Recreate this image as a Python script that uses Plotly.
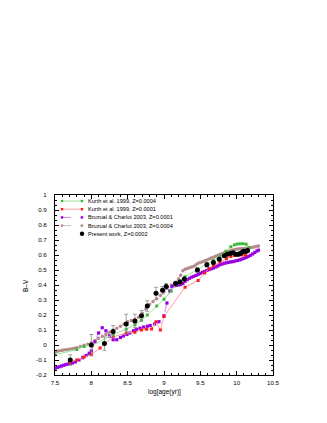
import plotly.graph_objects as go

# ---------------------------------------------------------
# data
# ---------------------------------------------------------
# Present work, Z=0.0002 (black points with error bars)
obs_age = [7.71, 8.00, 8.18, 8.30, 8.48, 8.60, 8.69, 8.77, 8.89, 8.98, 9.03,
           9.16, 9.22, 9.28, 9.46, 9.59, 9.68, 9.76, 9.83, 9.87, 9.91, 9.95,
           9.99, 10.02, 10.05, 10.08, 10.10, 10.13, 10.15]
obs_bv = [-0.10, 0.00, 0.01, 0.09, 0.14, 0.16, 0.195, 0.26, 0.345, 0.365, 0.39,
          0.41, 0.42, 0.44, 0.50, 0.535, 0.55, 0.572, 0.595, 0.605, 0.61, 0.615,
          0.605, 0.605, 0.61, 0.62, 0.625, 0.625, 0.63]
obs_err = [0.035, 0.07, 0.045, 0.04, 0.065, 0.045, 0.035, 0.035, 0.04, 0.025, 0.02,
           0.015, 0.015, 0.01, 0.015, 0.015, 0.01, 0.01, 0.01, 0.01, 0.01, 0.01,
           0.01, 0.01, 0.01, 0.01, 0.015, 0.015, 0.01]

# Kurth et al. 1999, Z=0.0004
k4_age = [7.50, 7.80, 7.90, 8.00, 8.30, 8.48, 8.60, 8.69, 8.77, 8.90, 9.00, 9.10,
          9.17, 9.29, 9.46, 9.59, 9.68, 9.77, 9.85, 9.92, 9.97, 10.01, 10.05,
          10.09, 10.13, 10.17]
k4_bv = [-0.065, -0.03, -0.01, -0.005, 0.07, 0.105, 0.135, 0.165, 0.20, 0.26, 0.305,
         0.36, 0.41, 0.455, 0.505, 0.54, 0.565, 0.59, 0.625, 0.655, 0.668, 0.673,
         0.675, 0.675, 0.672, 0.65]

# Kurth et al. 1999, Z=0.0001
k1_age = [7.70, 7.80, 7.90, 8.00, 8.12, 8.30, 8.48, 8.60, 8.69, 8.76, 8.83, 8.89,
          8.95, 9.00, 9.29, 9.47, 9.56, 9.62, 9.68, 9.77, 9.86, 9.92, 9.97, 10.02,
          10.07, 10.12]
k1_bv = [-0.115, -0.10, -0.08, -0.065, -0.02, 0.055, 0.08, 0.085, 0.10, 0.105, 0.107,
         0.155, 0.10, 0.19, 0.385, 0.43, 0.48, 0.51, 0.53, 0.555, 0.575, 0.59, 0.597,
         0.60, 0.60, 0.60]

# Bruzual & Charlot 2003, Z=0.0001
bc1_age = [7.50, 7.53, 7.56, 7.59, 7.62, 7.65, 7.68, 7.71, 7.74, 7.78, 7.83, 7.88,
           7.93, 7.97, 8.00, 8.05, 8.10, 8.15, 8.20, 8.25, 8.30, 8.35, 8.40, 8.44,
           8.49, 8.53, 8.58, 8.62, 8.67, 8.72, 8.77, 8.81, 8.87, 8.93, 9.00, 9.04,
           9.08, 9.11, 9.14, 9.17, 9.20, 9.23, 9.26, 9.29, 9.32, 9.35, 9.38, 9.41,
           9.44, 9.47, 9.50, 9.53, 9.56, 9.59, 9.62, 9.65, 9.68, 9.71, 9.74, 9.77,
           9.80, 9.83, 9.86, 9.89, 9.92, 9.95, 9.98, 10.01, 10.04, 10.07, 10.10,
           10.13, 10.16, 10.19, 10.22, 10.25, 10.28, 10.30]
bc1_bv = [-0.155, -0.15, -0.145, -0.14, -0.135, -0.13, -0.127, -0.123, -0.12, -0.113,
          -0.10, -0.085, -0.07, -0.055, -0.04, 0.02, 0.08, 0.115, 0.095, 0.06, 0.035,
          0.035, 0.05, 0.06, 0.07, 0.08, 0.095, 0.105, 0.112, 0.12, 0.125, 0.13,
          0.14, 0.155, 0.195, 0.28, 0.36, 0.39, 0.395, 0.398, 0.40, 0.403, 0.41,
          0.425, 0.435, 0.445, 0.452, 0.458, 0.464, 0.47, 0.478, 0.485, 0.49, 0.497,
          0.503, 0.508, 0.513, 0.52, 0.527, 0.535, 0.54, 0.545, 0.548, 0.551, 0.554,
          0.556, 0.56, 0.563, 0.567, 0.572, 0.578, 0.584, 0.59, 0.598, 0.607, 0.617,
          0.627, 0.632]

# Bruzual & Charlot 2003, Z=0.0004
bc4_age = [7.50, 7.53, 7.56, 7.59, 7.62, 7.65, 7.68, 7.71, 7.74, 7.77, 7.80, 7.85,
           7.90, 7.95, 8.00, 8.05, 8.10, 8.15, 8.20, 8.25, 8.30, 8.35, 8.40, 8.45,
           8.50, 8.55, 8.60, 8.65, 8.70, 8.75, 8.80, 8.85, 8.90, 8.95, 9.00, 9.05,
           9.10, 9.15, 9.20, 9.23, 9.26, 9.29, 9.32, 9.35, 9.38, 9.41, 9.44, 9.47,
           9.50, 9.53, 9.56, 9.59, 9.62, 9.65, 9.68, 9.71, 9.74, 9.77, 9.80, 9.83,
           9.86, 9.89, 9.92, 9.95, 9.98, 10.01, 10.04, 10.07, 10.10, 10.13, 10.16,
           10.19, 10.22, 10.25, 10.28, 10.30]
bc4_bv = [-0.045, -0.042, -0.039, -0.036, -0.033, -0.031, -0.029, -0.027, -0.025,
          -0.022, -0.018, -0.01, -0.002, 0.006, 0.015, 0.03, 0.045, 0.058, 0.07,
          0.085, 0.10, 0.112, 0.125, 0.14, 0.155, 0.163, 0.17, 0.185, 0.21, 0.24,
          0.27, 0.29, 0.308, 0.33, 0.355, 0.385, 0.40, 0.415, 0.44, 0.465, 0.495,
          0.505, 0.51, 0.515, 0.52, 0.525, 0.535, 0.545, 0.55, 0.555, 0.562, 0.567,
          0.573, 0.58, 0.586, 0.592, 0.598, 0.604, 0.61, 0.615, 0.62, 0.625, 0.63,
          0.634, 0.637, 0.64, 0.642, 0.643, 0.644, 0.645, 0.647, 0.649, 0.652,
          0.655, 0.658, 0.66]

x_ticks = [7.5, 8, 8.5, 9, 9.5, 10, 10.5]
x_ticktext = ["7.5", "8", "8.5", "9", "9.5", "10", "10.5"]
y_ticks = [-0.2, -0.1, 0, 0.1, 0.2, 0.3, 0.4, 0.5, 0.6, 0.7, 0.8, 0.9, 1]
y_ticktext = ["-0.2", "-0.1", "0", "0.1", "0.2", "0.3", "0.4", "0.5", "0.6",
              "0.7", "0.8", "0.9", "1"]

legend_names = ["Kurth et al. 1999, Z=0.0004",
                "Kurth et al. 1999, Z=0.0001",
                "Bruzual & Charlot 2003, Z=0.0001",
                "Bruzual & Charlot 2003, Z=0.0004",
                "Present work, Z=0.0002"]

# ---------------------------------------------------------
# styles
# ---------------------------------------------------------
FONT = "Liberation Sans, Arial, sans-serif"
OFF = 8                                # page body margin
W, H = 311, 407
L, R, T, B = 47, 46, 187, 40           # plot area on page: x 55..273, y 195..375
GREEN, GREEN_L = "#3cb83c", "#9be49b"
RED, RED_L = "#ff1a1a", "#ff9a9a"
PURPLE, PURPLE_L = "#9a00e0", "#c68af0"
BROWN, BROWN_L = "#b48a8a", "#d2b6b6"


# page pixel -> paper fraction
def px_x(px):
    return (px - OFF - L) / (W - L - R)


def px_y(py):
    return (H - B - (py - OFF)) / (H - T - B)


fig = go.Figure()

fig.add_trace(go.Scatter(
    x=bc4_age, y=bc4_bv, mode="lines+markers", name=legend_names[3],
    line=dict(color=BROWN_L, width=1, dash="dash"),
    marker=dict(color=BROWN, size=3.4, symbol="circle"),
))
fig.add_trace(go.Scatter(
    x=bc1_age, y=bc1_bv, mode="lines+markers", name=legend_names[2],
    line=dict(color=PURPLE_L, width=1, dash="dash"),
    marker=dict(color=PURPLE, size=3.2, symbol="square"),
))
fig.add_trace(go.Scatter(
    x=k1_age, y=k1_bv, mode="lines+markers", name=legend_names[1],
    line=dict(color=RED_L, width=1),
    marker=dict(color=RED, size=3, symbol="square"),
))
fig.add_trace(go.Scatter(
    x=k4_age, y=k4_bv, mode="lines+markers", name=legend_names[0],
    line=dict(color=GREEN_L, width=1),
    marker=dict(color=GREEN, size=3, symbol="square"),
))
fig.add_trace(go.Scatter(
    x=obs_age, y=obs_bv, mode="markers", name=legend_names[4],
    marker=dict(color="black", size=5, symbol="circle"),
    error_y=dict(type="data", array=obs_err, color="#8a8a8a",
                 thickness=0.8, width=2),
))

# ---------------------------------------------------------
# key (gnuplot-like, compact) drawn with shapes + text
# ---------------------------------------------------------
key_rows = [201, 209.2, 217.4, 225.6, 233.8]
key_style = [(GREEN, GREEN_L, "solid"), (RED, RED_L, "solid"),
             (PURPLE, PURPLE_L, "dash"), (BROWN, BROWN_L, "dash")]
shapes = []
annotations = []
for i, name in enumerate(legend_names):
    yc = key_rows[i]
    if i < 4:
        mc, lc, dash = key_style[i]
        shapes.append(dict(type="line", xref="paper", yref="paper",
                           x0=px_x(62), x1=px_x(82), y0=px_y(yc), y1=px_y(yc),
                           line=dict(color=lc, width=1, dash=dash)))
        for xe in (62, 82):
            shapes.append(dict(type="rect", xref="paper", yref="paper",
                               x0=px_x(xe - 1.2), x1=px_x(xe + 1.2),
                               y0=px_y(yc + 1.2), y1=px_y(yc - 1.2),
                               fillcolor=mc, line=dict(width=0)))
    else:
        shapes.append(dict(type="circle", xref="paper", yref="paper",
                           x0=px_x(79.8), x1=px_x(84.2),
                           y0=px_y(yc + 2.2), y1=px_y(yc - 2.2),
                           fillcolor="black", line=dict(width=0)))
    annotations.append(dict(x=px_x(86), y=px_y(yc), xref="paper", yref="paper",
                            text=name, showarrow=False, xanchor="left",
                            yanchor="middle",
                            font=dict(size=5.6, color="black", family=FONT)))

# axis titles
annotations.append(dict(x=px_x(164), y=px_y(392), xref="paper", yref="paper",
                        text="log[age(yr)]", showarrow=False,
                        xanchor="center", yanchor="middle",
                        font=dict(size=6.5, color="black", family=FONT)))
annotations.append(dict(x=px_x(25), y=px_y(286), xref="paper", yref="paper",
                        text="B–V", showarrow=False, textangle=-90,
                        xanchor="center", yanchor="middle",
                        font=dict(size=6.5, color="black", family=FONT)))

axis_common = dict(
    showline=True, linecolor="black", linewidth=1, mirror="allticks",
    ticks="inside", ticklen=4, tickcolor="black", tickwidth=0.8,
    showgrid=False, zeroline=False,
    tickfont=dict(size=6.2, color="black", family=FONT),
)

fig.update_xaxes(range=[7.5, 10.5], tickvals=x_ticks, ticktext=x_ticktext,
                 minor=dict(ticks="inside", ticklen=2, dtick=0.1,
                            tickcolor="black", tickwidth=0.6, showgrid=False),
                 ticklabelstandoff=2, **axis_common)
fig.update_yaxes(range=[-0.2, 1.0], tickvals=y_ticks, ticktext=y_ticktext,
                 minor=dict(ticks="inside", ticklen=2, dtick=0.1 / 3,
                            tick0=-0.2, tickcolor="black", tickwidth=0.6,
                            showgrid=False),
                 ticklabelstandoff=6, **axis_common)

fig.update_layout(
    width=W, height=H,
    margin=dict(l=L, r=R, t=T, b=B, pad=0),
    paper_bgcolor="white", plot_bgcolor="white",
    showlegend=False,
    shapes=shapes,
    annotations=annotations,
    font=dict(family=FONT, color="black"),
)

fig.write_html("out.html")
